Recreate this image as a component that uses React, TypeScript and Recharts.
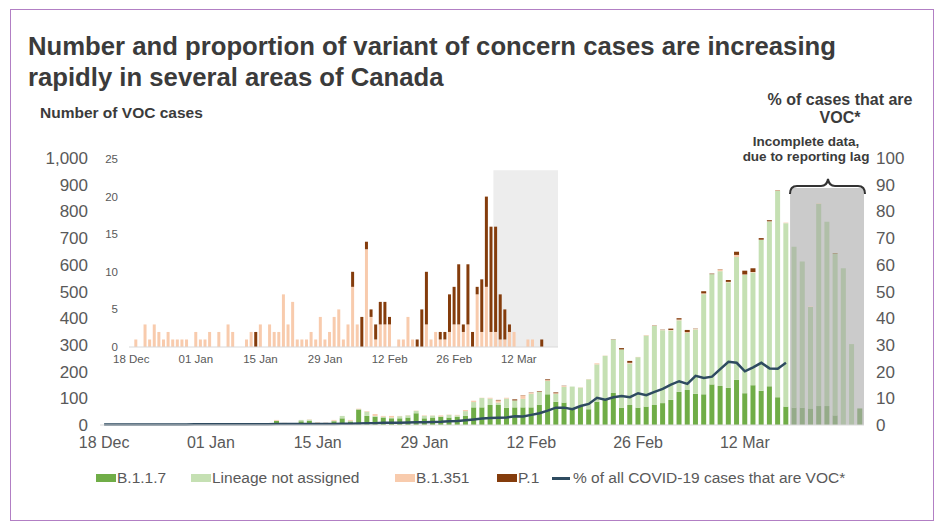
import React from "react";
import {
  ComposedChart,
  BarChart,
  Bar,
  Line,
  XAxis,
  YAxis,
  ReferenceArea,
  Cell,
} from "recharts";

// one entry per reported day (18 Dec - 20 Mar)
const days = [
  "18 Dec", "19 Dec", "20 Dec", "21 Dec", "22 Dec", "23 Dec", "24 Dec", "25 Dec", "26 Dec", "27 Dec",
  "28 Dec", "29 Dec", "30 Dec", "31 Dec", "01 Jan", "02 Jan", "03 Jan", "04 Jan", "05 Jan", "06 Jan",
  "07 Jan", "08 Jan", "09 Jan", "10 Jan", "11 Jan", "12 Jan", "13 Jan", "14 Jan", "15 Jan", "16 Jan",
  "17 Jan", "18 Jan", "19 Jan", "20 Jan", "21 Jan", "22 Jan", "23 Jan", "24 Jan", "25 Jan", "26 Jan",
  "27 Jan", "28 Jan", "29 Jan", "30 Jan", "31 Jan", "01 Feb", "02 Feb", "03 Feb", "04 Feb", "05 Feb",
  "06 Feb", "07 Feb", "08 Feb", "09 Feb", "10 Feb", "11 Feb", "12 Feb", "13 Feb", "14 Feb", "15 Feb",
  "16 Feb", "17 Feb", "18 Feb", "19 Feb", "20 Feb", "21 Feb", "22 Feb", "23 Feb", "24 Feb", "25 Feb",
  "26 Feb", "27 Feb", "28 Feb", "01 Mar", "02 Mar", "03 Mar", "04 Mar", "05 Mar", "06 Mar", "07 Mar",
  "08 Mar", "09 Mar", "10 Mar", "11 Mar", "12 Mar", "13 Mar", "14 Mar", "15 Mar", "16 Mar", "17 Mar",
  "18 Mar", "19 Mar", "20 Mar",
];

const b117 = [
  0, 0, 0, 0, 0, 0, 0, 1, 0, 1,
  0, 1, 0, 1, 2, 2, 3, 4, 3, 4,
  3, 15, 6, 4, 14, 16, 8, 5, 14, 25,
  13, 58, 34, 31, 28, 25, 25, 28, 44, 25,
  28, 31, 28, 31, 34, 66, 66, 75, 75, 64,
  66, 66, 66, 76, 115, 87, 84, 62, 71, 59,
  87, 94, 120, 65, 75, 65, 69, 75, 82, 94,
  124, 131, 117, 115, 152, 146, 139, 169, 119, 149,
  128, 145, 104, 69, 65, 65, 62, 71, 71, 36,
  0, 0, 62,
];

const lineageNotAssigned = [
  0, 0, 0, 0, 0, 0, 0, 1, 0, 0,
  0, 0, 0, 0, 0, 0, 1, 0, 1, 0,
  2, 1, 0, 1, 5, 4, 0, 1, 2, 9,
  3, 1, 16, 3, 3, 3, 8, 8, 9, 9,
  7, 1, 10, 5, 18, 20, 35, 24, 9, 35,
  26, 32, 51, 48, 50, 29, 59, 82, 69, 112,
  140, 165, 200, 218, 155, 189, 266, 296, 273, 260,
  268, 214, 241, 375, 413, 430, 395, 460, 443, 422,
  565, 617, 773, 687, 603, 547, 380, 758, 690, 606,
  587, 303, 0,
];

const b1351 = [
  0, 1, 0, 3, 1, 3, 2, 1, 2, 1,
  1, 1, 1, 0, 2, 1, 1, 2, 0, 2,
  0, 3, 2, 0, 0, 1, 2, 0, 3, 0,
  3, 2, 2, 7, 3, 6, 1, 1, 1, 2,
  1, 4, 1, 2, 4, 5, 1, 3, 8, 3,
  0, 13, 4, 1, 3, 3, 3, 0, 1, 1,
  4, 1, 0, 0, 3, 1, 2, 1, 1, 2,
  3, 3, 2, 3, 0, 7, 2, 8, 2, 2,
  1, 1, 2, 2, 0, 0, 1, 1, 0, 0,
  0, 0, 0,
];

const p1 = [
  0, 0, 0, 0, 0, 0, 0, 0, 0, 0,
  0, 0, 0, 0, 0, 0, 0, 0, 0, 0,
  0, 0, 0, 0, 0, 0, 0, 2, 0, 0,
  0, 0, 0, 0, 0, 0, 0, 0, 0, 0,
  0, 0, 0, 0, 0, 0, 0, 0, 2, 0,
  4, 1, 1, 2, 3, 3, 1, 0, 0, 0,
  0, 0, 1, 5, 7, 0, 0, 1, 1, 5,
  5, 8, 1, 8, 2, 1, 7, 12, 14, 14,
  6, 4, 1, 0, 0, 0, 0, 0, 0, 1,
  0, 0, 0,
];

// % of all COVID-19 cases that are VOC (stops where data is incomplete)
const pctVoc = [
  0.2, 0.2, 0.2, 0.2, 0.2, 0.2, 0.2, 0.2, 0.2, 0.2,
  0.2, 0.3, 0.3, 0.3, 0.3, 0.3, 0.3, 0.3, 0.3, 0.3,
  0.3, 0.4, 0.4, 0.4, 0.4, 0.4, 0.4, 0.4, 0.4, 0.5,
  0.5, 0.6, 0.7, 0.7, 0.8, 0.8, 0.8, 0.9, 1.0, 1.0,
  1.1, 1.2, 1.4, 1.5, 1.8, 2.1, 2.4, 2.6, 2.7, 2.8,
  3.3, 3.2, 3.8, 4.4, 5.4, 6.5, 6.5, 5.9, 7.1, 7.9,
  10.2, 9.5, 10.4, 10.9, 10.4, 11.9, 11.2, 12.4, 13.5, 15.1,
  16.4, 15.4, 18.4, 17.6, 18.1, 20.9, 23.7, 23.3, 20.1, 21.6,
  23.3, 21.2, 21.1, 23.3, null, null, null, null, null, null,
  null, null, null,
];

// shaded "incomplete data" windows
const mainIncompleteFrom = "12 Mar";
const insetIncompleteFrom = "07 Mar";

const mainTickIndex = [0, 13, 26, 39, 52, 65, 78];
const mainTickLabels = ["18 Dec", "01 Jan", "15 Jan", "29 Jan", "12 Feb", "26 Feb", "12 Mar"];
const leftTicks = [0, 100, 200, 300, 400, 500, 600, 700, 800, 900, 1000];
const rightTicks = [0, 10, 20, 30, 40, 50, 60, 70, 80, 90, 100];
const insetTicks = [0, 5, 10, 15, 20, 25];

const FONT = '"Liberation Sans", Arial, Helvetica, sans-serif';
const TEXT = "#595959";
const GREEN = "#70ad47";
const LIGHT_GREEN = "#c5e0b3";
const GREEN_MUTED = "#95ab89";
const LIGHT_GREEN_MUTED = "#b0bfa8";
const PEACH = "#f8cbad";
const BROWN = "#843c0c";
const NAVY = "#2e4b60";

const data = days.map((d, i) => ({
  day: d,
  b117: b117[i],
  lineage: lineageNotAssigned[i],
  b1351: b1351[i],
  p1: p1[i],
  pct: pctVoc[i],
}));

const incompleteIdx = days.indexOf(mainIncompleteFrom);

const mainTickText = (v: string) => {
  const k = mainTickIndex.indexOf(days.indexOf(v));
  return k >= 0 ? mainTickLabels[k] : "";
};

const legendItems = [
  { label: "B.1.1.7", color: GREEN, left: 96, line: false },
  { label: "Lineage not assigned", color: LIGHT_GREEN, left: 191, line: false },
  { label: "B.1.351", color: PEACH, left: 395, line: false },
  { label: "P.1", color: BROWN, left: 497, line: false },
  { label: "% of all COVID-19 cases that are VOC*", color: NAVY, left: 552, line: true },
];

export default function App() {
  return (
    <div
      style={{
        position: "absolute",
        left: 0,
        top: 0,
        width: 945,
        height: 529,
        background: "#fff",
        fontFamily: FONT,
        overflow: "hidden",
      }}
    >
      <div
        style={{
          position: "absolute",
          left: 10,
          top: 9,
          width: 922,
          height: 510,
          border: "1.5px solid #b27fc4",
        }}
      />
      <div
        style={{
          position: "absolute",
          left: 28,
          top: 31,
          fontSize: 25.7,
          lineHeight: "31px",
          fontWeight: 700,
          color: "#3b3b3b",
          whiteSpace: "nowrap",
        }}
      >
        Number and proportion of variant of concern cases are increasing
        <br />
        rapidly in several areas of Canada
      </div>
      <div
        style={{
          position: "absolute",
          left: 40,
          top: 104,
          fontSize: 15.5,
          lineHeight: "18px",
          fontWeight: 700,
          color: "#3b3b3b",
          whiteSpace: "nowrap",
        }}
      >
        Number of VOC cases
      </div>
      <div
        style={{
          position: "absolute",
          left: 740,
          width: 200,
          top: 91,
          fontSize: 16,
          lineHeight: "18px",
          fontWeight: 700,
          color: "#3b3b3b",
          textAlign: "center",
        }}
      >
        % of cases that are
        <br />
        VOC*
      </div>
      <div
        style={{
          position: "absolute",
          left: 706,
          width: 200,
          top: 134,
          fontSize: 13.5,
          lineHeight: "15px",
          fontWeight: 700,
          color: "#3b3b3b",
          textAlign: "center",
        }}
      >
        Incomplete data,
        <br />
        due to reporting lag
      </div>

      <div style={{ position: "absolute", left: 0, top: 0 }}>
        <ComposedChart
          width={945}
          height={460}
          data={data}
          margin={{ top: 158, right: 21, left: 40, bottom: 0 }}
          barCategoryGap="18%"
        >
          <ReferenceArea
            yAxisId="left"
            x1={mainIncompleteFrom}
            x2={days[days.length - 1]}
            y1={0}
            y2={888}
            fill="#cbcbcb"
            fillOpacity={1}
            stroke="none"
          />
          <XAxis
            dataKey="day"
            interval={12}
            tickFormatter={mainTickText}
            tickLine={false}
            axisLine={{ stroke: "#d9d9d9" }}
            tickSize={0}
            tickMargin={12}
            height={35}
            tick={{ fill: TEXT, fontSize: 16, fontFamily: FONT }}
          />
          <YAxis
            yAxisId="left"
            domain={[0, 1000]}
            ticks={leftTicks}
            width={60}
            axisLine={false}
            tickLine={false}
            tickSize={0}
            tickMargin={12}
            tickFormatter={(v: number) => v.toLocaleString("en-US")}
            tick={{ fill: TEXT, fontSize: 17, fontFamily: FONT }}
          />
          <YAxis
            yAxisId="right"
            orientation="right"
            domain={[0, 100]}
            ticks={rightTicks}
            width={60}
            axisLine={false}
            tickLine={false}
            tickSize={0}
            tickMargin={12}
            tick={{ fill: TEXT, fontSize: 17, fontFamily: FONT, textAnchor: "start" }}
          />
          <Bar yAxisId="left" dataKey="b117" stackId="voc" fill={GREEN} isAnimationActive={false}>
            {data.map((d, i) => (
              <Cell key={d.day} fill={i >= incompleteIdx ? GREEN_MUTED : GREEN} />
            ))}
          </Bar>
          <Bar yAxisId="left" dataKey="lineage" stackId="voc" fill={LIGHT_GREEN} isAnimationActive={false}>
            {data.map((d, i) => (
              <Cell key={d.day} fill={i >= incompleteIdx ? LIGHT_GREEN_MUTED : LIGHT_GREEN} />
            ))}
          </Bar>
          <Bar yAxisId="left" dataKey="b1351" stackId="voc" fill={PEACH} isAnimationActive={false} />
          <Bar yAxisId="left" dataKey="p1" stackId="voc" fill={BROWN} isAnimationActive={false} />
          <Line
            yAxisId="right"
            dataKey="pct"
            stroke={NAVY}
            strokeWidth={2.5}
            dot={false}
            activeDot={false}
            connectNulls={false}
            isAnimationActive={false}
          />
        </ComposedChart>
      </div>

      <div style={{ position: "absolute", left: 0, top: 0 }}>
        <BarChart
          width={570}
          height={380}
          data={data}
          margin={{ top: 159, right: 12, left: 0, bottom: 0 }}
          barCategoryGap="15%"
        >
          <ReferenceArea
            x1={insetIncompleteFrom}
            x2={days[days.length - 1]}
            y1={0}
            y2={23.5}
            fill="#ededed"
            fillOpacity={1}
            stroke="none"
          />
          <XAxis
            dataKey="day"
            interval={13}
            tickLine={false}
            axisLine={{ stroke: "#d9d9d9" }}
            tickSize={0}
            tickMargin={8}
            height={33}
            tick={{ fill: TEXT, fontSize: 11.5, fontFamily: FONT }}
          />
          <YAxis
            domain={[0, 25]}
            ticks={insetTicks}
            width={129}
            axisLine={false}
            tickLine={false}
            tickSize={0}
            tickMargin={11}
            tick={{ fill: TEXT, fontSize: 11.5, fontFamily: FONT }}
          />
          <Bar dataKey="b1351" stackId="inset" fill={PEACH} isAnimationActive={false} />
          <Bar dataKey="p1" stackId="inset" fill={BROWN} isAnimationActive={false} />
        </BarChart>
      </div>

      <svg
        width={945}
        height={529}
        style={{ position: "absolute", left: 0, top: 0, pointerEvents: "none" }}
      >
        <path
          d="M790,194 Q790,186 797,186 L821,186 Q827,186 828,179 Q829,186 835,186 L858,186 Q865,186 865,194"
          fill="none"
          stroke="#333"
          strokeWidth={2}
        />
      </svg>

      {legendItems.map((it) => (
        <div
          key={it.label}
          style={{
            position: "absolute",
            left: it.left,
            top: 469,
            height: 18,
            display: "flex",
            alignItems: "center",
            fontSize: 15.5,
            color: TEXT,
            whiteSpace: "nowrap",
          }}
        >
          <span
            style={{
              display: "inline-block",
              width: it.line ? 18 : 20,
              height: it.line ? 3 : 8,
              background: it.color,
              marginRight: it.line ? 3 : 1,
            }}
          />
          {it.label}
        </div>
      ))}
    </div>
  );
}
